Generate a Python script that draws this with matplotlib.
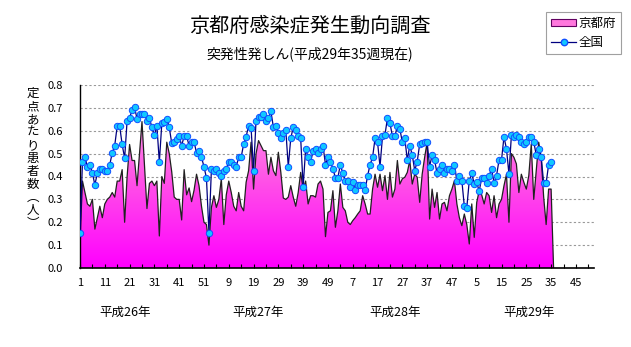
import numpy as np
import matplotlib
matplotlib.use("Agg")
import matplotlib.pyplot as plt
from matplotlib.colors import LinearSegmentedColormap
from matplotlib.patches import Polygon, Patch
from matplotlib.lines import Line2D

plt.rcParams['font.family'] = ['Noto Sans CJK JP', 'DejaVu Sans']

# ---- data (週ごと, 平成26年第1週 〜 平成29年第35週) ----
kyoto = [
    # H26
    0.12, 0.38, 0.33, 0.28, 0.27, 0.30, 0.17, 0.22, 0.27, 0.22,
    0.28, 0.30, 0.31, 0.33, 0.31, 0.38, 0.38, 0.43, 0.20, 0.40,
    0.54, 0.47, 0.47, 0.36, 0.50, 0.64, 0.45, 0.26, 0.37, 0.38,
    0.36, 0.38, 0.14, 0.40, 0.37, 0.55, 0.50, 0.42, 0.31, 0.30,
    0.30, 0.21, 0.43, 0.32, 0.35, 0.29, 0.34, 0.41, 0.36, 0.27,
    0.20, 0.19,
    # H27
    0.10, 0.265, 0.316, 0.265, 0.30, 0.39, 0.19, 0.32, 0.38, 0.33,
    0.27, 0.25, 0.33, 0.27, 0.25, 0.375, 0.425, 0.55, 0.345, 0.50,
    0.557, 0.535, 0.513, 0.513, 0.41, 0.484, 0.425, 0.404, 0.506, 0.418,
    0.306, 0.30, 0.31, 0.36, 0.31, 0.27, 0.33, 0.418, 0.345, 0.38,
    0.28, 0.316, 0.316, 0.31, 0.367, 0.38, 0.345, 0.137, 0.243, 0.25,
    0.338, 0.178,
    # H28
    0.25, 0.367, 0.265, 0.25, 0.20, 0.19, 0.207, 0.22, 0.236, 0.25,
    0.316, 0.28, 0.236, 0.236, 0.345, 0.41, 0.353, 0.41, 0.338, 0.404,
    0.30, 0.418, 0.31, 0.345, 0.47, 0.367, 0.39, 0.397, 0.418, 0.47,
    0.367, 0.41, 0.397, 0.287, 0.41, 0.484, 0.55, 0.214, 0.345, 0.265,
    0.33, 0.214, 0.28, 0.287, 0.25, 0.316, 0.345, 0.382, 0.28, 0.22,
    0.185, 0.236,
    # H29
    0.19, 0.105, 0.28, 0.134, 0.287, 0.338, 0.32, 0.28, 0.33, 0.316,
    0.243, 0.316, 0.22, 0.28, 0.30, 0.36, 0.41, 0.20, 0.50, 0.484,
    0.455, 0.33, 0.41, 0.375, 0.345, 0.404, 0.542, 0.30, 0.425, 0.55,
    0.484, 0.31, 0.19, 0.345, 0.345,
]

zenkoku = [
    # H26
    0.155, 0.465, 0.484, 0.443, 0.452, 0.414, 0.364, 0.414, 0.433, 0.434,
    0.426, 0.426, 0.452, 0.503, 0.535, 0.62, 0.62, 0.54, 0.48, 0.644,
    0.656, 0.69, 0.703, 0.652, 0.673, 0.673, 0.673, 0.644, 0.655, 0.615,
    0.58, 0.622, 0.463, 0.633, 0.64, 0.652, 0.615, 0.545, 0.55, 0.564,
    0.576, 0.535, 0.576, 0.576, 0.535, 0.552, 0.552, 0.503, 0.513, 0.484,
    0.443, 0.394,
    # H27
    0.155, 0.433, 0.426, 0.433, 0.414, 0.404, 0.423, 0.433, 0.465, 0.465,
    0.452, 0.443, 0.484, 0.484, 0.542, 0.574, 0.622, 0.612, 0.426, 0.644,
    0.659, 0.662, 0.673, 0.644, 0.655, 0.685, 0.615, 0.622, 0.59, 0.567,
    0.59, 0.603, 0.443, 0.567, 0.615, 0.603, 0.576, 0.567, 0.356, 0.52,
    0.484, 0.465, 0.51, 0.52, 0.501, 0.52, 0.535, 0.452, 0.484, 0.465,
    0.433, 0.395,
    # H28
    0.395, 0.452, 0.414, 0.382, 0.382, 0.353, 0.375, 0.341, 0.364, 0.364,
    0.364, 0.341, 0.404, 0.452, 0.484, 0.567, 0.55, 0.443, 0.576, 0.583,
    0.655, 0.634, 0.576, 0.576, 0.622, 0.608, 0.55, 0.567, 0.472, 0.535,
    0.494, 0.426, 0.465, 0.542, 0.547, 0.55, 0.552, 0.443, 0.494, 0.472,
    0.414, 0.433, 0.452, 0.414, 0.433, 0.433, 0.426, 0.452, 0.382, 0.404,
    0.382, 0.27,
    # H29
    0.264, 0.382, 0.414, 0.367, 0.375, 0.335, 0.394, 0.394, 0.372, 0.404,
    0.433, 0.372, 0.404, 0.472, 0.472, 0.574, 0.52, 0.411, 0.583, 0.574,
    0.583, 0.574, 0.552, 0.542, 0.552, 0.574, 0.574, 0.552, 0.494, 0.52,
    0.484, 0.372, 0.372, 0.452, 0.465,
]

n_weeks = 208  # 4年 x 52週
tick_labels = ['1', '11', '21', '31', '41', '51', '9', '19', '29', '39', '49',
               '7', '17', '27', '37', '47', '5', '15', '25', '35', '45']
year_labels = ['平成26年', '平成27年', '平成28年', '平成29年']
year_pos = [19, 73, 128, 182]

# ---- figure ----
fig = plt.figure(figsize=(6.31, 3.47), dpi=100)
ax = fig.add_axes([80 / 631, 1 - 268 / 347, 514 / 631, 183 / 347])

x_k = np.arange(1, len(kyoto) + 1)
x_z = np.arange(1, len(zenkoku) + 1)

# 京都府: グラデーション塗りの面 (データの後は0に落ちる)
xk = np.r_[x_k, len(kyoto) + 1]
yk = np.r_[kyoto, 0.0]
poly = Polygon(np.column_stack([np.r_[1, xk], np.r_[0, yk]]), closed=True,
               facecolor='none', edgecolor='none', transform=ax.transData)
ax.add_patch(poly)
pink = LinearSegmentedColormap.from_list('pk', ['#FF00FF', '#FF55E6', '#FFB3EC'])
grad = np.linspace(0, 1, 256).reshape(-1, 1)
im = ax.imshow(grad, extent=[1, n_weeks + 0.5, 0, 0.8], origin='lower',
               cmap=pink, aspect='auto', zorder=1)
im.set_clip_path(poly)
ax.plot(xk, yk, color='#202020', lw=0.9, zorder=2)

# 全国
ax.plot(x_z, zenkoku, color='#000080', lw=0.9, marker='o', markersize=4.6,
        markerfacecolor='#10C8FF', markeredgecolor='#1050FF', markeredgewidth=0.7,
        zorder=3)

# 軸
ax.set_xlim(1, n_weeks + 0.3)
ax.set_ylim(0, 0.8)
ax.set_yticks(np.arange(0, 0.81, 0.1))
ax.set_yticklabels([f'{v:.1f}' for v in np.arange(0, 0.81, 0.1)], fontsize=8)
ax.tick_params(axis='y', length=0, pad=12)
ax.set_xticks(np.arange(1, n_weeks + 1, 10))
ax.set_xticklabels(tick_labels, fontsize=8)
ax.set_xticks(np.arange(6, n_weeks + 1, 10), minor=True)
ax.tick_params(axis='x', which='both', direction='in', length=3, width=0.8, pad=7)
for v in np.arange(0.1, 0.81, 0.1):
    ax.axhline(v, color='#999999', lw=0.8, ls=(0, (2, 2)), zorder=0)
for s in ['top', 'right']:
    ax.spines[s].set_visible(False)
ax.spines['left'].set_linewidth(1.0)
ax.spines['bottom'].set_linewidth(1.2)

for lab, p in zip(year_labels, year_pos):
    ax.text(p, -0.195, lab, ha='center', va='center', fontsize=9)

# 縦書きの軸ラベル
ylab = '定点あたり患者数︵人︶'
fig.text(33 / 631, 1 - 87 / 347, '\n'.join(ylab), ha='center', va='top',
         fontsize=9, linespacing=1.0)

# タイトル
fig.text(310 / 631, 1 - 26 / 347, '京都府感染症発生動向調査', ha='center', va='center',
         fontsize=14.5)
fig.text(310 / 631, 1 - 54 / 347, '突発性発しん(平成29年35週現在)', ha='center',
         va='center', fontsize=10)

# 凡例
handles = [Patch(facecolor='#FF77DD', edgecolor='#600060', lw=0.8),
           Line2D([], [], color='#000080', lw=0.9, marker='o', markersize=4.6,
                  markerfacecolor='#10C8FF', markeredgecolor='#1050FF')]
leg = fig.legend(handles, ['京都府', '全国'], loc='upper left',
                 bbox_to_anchor=(546 / 631, 1 - 12 / 347), fontsize=9,
                 fancybox=False, framealpha=1, edgecolor='#A0A0A0',
                 handlelength=2.0, handleheight=0.5, handletextpad=0.2,
                 borderpad=0.4, labelspacing=0.5, borderaxespad=0)
leg.get_frame().set_linewidth(0.8)

fig.savefig('out.png', dpi=100)
